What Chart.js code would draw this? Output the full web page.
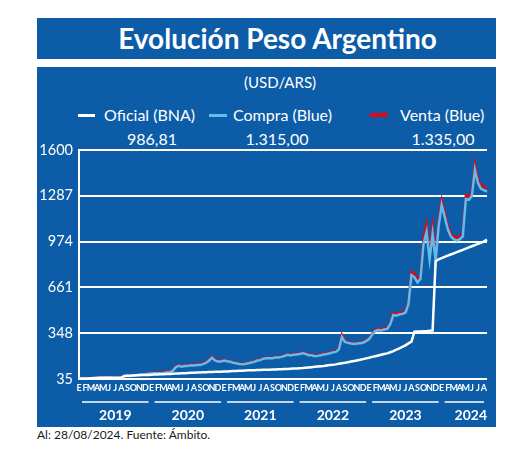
<!DOCTYPE html>
<html>
<head>
<meta charset="UTF-8">
<title>Evolución Peso Argentino</title>
<script src="https://cdn.jsdelivr.net/npm/chart.js"></script>
<style>
  body { margin: 0; width: 520px; height: 470px; background: #fff; font-family: Lato, sans-serif; position: relative; overflow: hidden; }
  .box { position: absolute; left: 37px; width: 459px; background: #0c5ca7; }
  #titulo { top: 18px; height: 41px; color: #fff; font-weight: 700; font-size: 28px; line-height: 41px; text-align: center; padding-left: 22px; box-sizing: border-box; }
  #panel { top: 67px; height: 360px; }
  .txt { position: absolute; color: #fff; font-size: 16px; white-space: nowrap; }
  .bar { position: absolute; height: 3px; }
  .val { position: absolute; color: #fff; font-size: 16px; transform: translateX(-50%); white-space: nowrap; }
  #fuente { position: absolute; left: 37px; top: 427px; font-size: 12px; color: #1a1a1a; }
  canvas { position: absolute; left: 0; top: 0; }
</style>
</head>
<body>
<div class="box" id="titulo">Evolución Peso Argentino</div>
<div class="box" id="panel"></div>
<div class="txt" style="left:244px; top:73px; font-size:15px;">(USD/ARS)</div>

<div class="bar" style="left:78px; top:114px; width:17px; background:#fff;"></div>
<div class="txt" style="left:104px; top:105px;">Oficial (BNA)</div>
<div class="bar" style="left:209px; top:114px; width:18px; background:#5fbdec;"></div>
<div class="txt" style="left:233px; top:105px;">Compra (Blue)</div>
<div class="bar" style="left:370px; top:113px; width:18px; height:4px; background:#e30613;"></div>
<div class="txt" style="left:400px; top:105px;">Venta (Blue)</div>

<div class="val" style="left:152px; top:129px;">986,81</div>
<div class="val" style="left:277px; top:129px;">1.315,00</div>
<div class="val" style="left:443px; top:129px;">1.335,00</div>

<div id="fuente">Al: 28/08/2024. Fuente: Ámbito.</div>

<canvas id="grafico" width="520" height="470"></canvas>

<script>
// meses (una etiqueta por mes, dos puntos por mes: día 1 y día 15)
const mesesAnio = ['E', 'F', 'M', 'A', 'M', 'J', 'J', 'A', 'S', 'O', 'N', 'D'];
const anios = ['2019', '2020', '2021', '2022', '2023', '2024'];
const mesesPorAnio = [12, 12, 12, 12, 12, 8];
const yTicks = [35, 348, 661, 974, 1287, 1600];

const oficial = [
  38, 38, 38, 39, 40, 41, 42, 43, 43, 44, 44, 44, 43, 43, 44, 56, 57, 58, 59, 60, 61, 62, 62, 63,
  64, 65, 66, 67, 68, 69, 70, 71, 72, 73, 74, 75, 76, 77, 78, 79, 80, 81, 81, 82, 83, 84, 85, 85,
  86, 87, 88, 89, 90, 91, 92, 93, 94, 95, 95, 96, 97, 98, 98, 99, 100, 100, 101, 102, 103, 104, 105, 106,
  107, 109, 110, 112, 114, 116, 118, 120, 122, 124, 127, 130, 132, 135, 139, 143, 146, 150, 154, 158, 162, 166, 171, 176,
  180, 186, 191, 196, 201, 206, 210, 218, 226, 235, 245, 254, 265, 278, 290, 358, 359, 360, 361, 362, 364, 366, 840, 852,
  861, 870, 878, 886, 894, 902, 910, 918, 926, 934, 942, 950, 958, 966, 976, 987
];

const compra = [
  37, 37, 37, 38, 39, 41, 43, 43, 44, 45, 44, 43, 42, 42, 44, 56, 57, 56, 59, 61, 65, 66, 68, 71,
  73, 74, 74, 75, 76, 80, 82, 90, 115, 125, 119, 123, 123, 129, 128, 130, 130, 137, 145, 160, 180, 162, 154, 154,
  161, 156, 153, 146, 142, 138, 136, 138, 142, 148, 152, 161, 164, 174, 176, 176, 177, 182, 182, 186, 192, 200, 196, 200,
  203, 206, 210, 206, 198, 197, 191, 193, 197, 202, 206, 211, 217, 220, 238, 322, 288, 282, 277, 275, 277, 280, 283, 294,
  308, 338, 362, 370, 367, 374, 377, 410, 472, 468, 476, 480, 488, 545, 745, 730, 695, 720, 960, 1040, 850, 1025, 845, 1080,
  1225, 1145, 1060, 1010, 990, 980, 990, 1010, 1265, 1260, 1285, 1465, 1375, 1335, 1325, 1315
];

const venta = [
  38, 38, 38, 39, 40, 42, 44, 44, 45, 46, 45, 44, 43, 43, 45, 58, 59, 58, 61, 63, 67, 68, 70, 73,
  77, 78, 78, 79, 80, 84, 86, 95, 120, 130, 124, 128, 128, 134, 133, 135, 135, 142, 150, 165, 188, 168, 160, 160,
  165, 160, 157, 150, 146, 142, 140, 142, 146, 152, 156, 165, 168, 178, 180, 180, 181, 186, 186, 190, 196, 204, 200, 204,
  208, 211, 215, 211, 203, 202, 196, 198, 202, 207, 211, 216, 222, 225, 245, 336, 295, 288, 282, 280, 282, 285, 288, 300,
  315, 345, 370, 378, 375, 382, 385, 420, 485, 480, 488, 492, 500, 560, 768, 750, 715, 740, 1000, 1090, 870, 1070, 860, 1110,
  1255, 1170, 1080, 1030, 1010, 1000, 1010, 1030, 1290, 1285, 1310, 1500, 1400, 1360, 1345, 1335
];

// etiquetas: mes en el día 1, vacío en el día 15
const etiquetas = [];
mesesPorAnio.forEach(n => {
  mesesAnio.slice(0, n).forEach(m => etiquetas.push(m, ''));
});

const blanco = '#ffffff';

// líneas y años debajo de los meses
const aniosPlugin = {
  id: 'anios',
  afterDraw(chart) {
    const ctx = chart.ctx;
    const x = chart.scales.x;
    const area = chart.chartArea;
    const anchoMes = x.getPixelForValue(2) - x.getPixelForValue(0);
    let mes = 0;
    ctx.save();
    ctx.font = 'bold 14px Lato, sans-serif';
    ctx.fillStyle = blanco;
    ctx.strokeStyle = blanco;
    ctx.lineWidth = 1.5;
    ctx.textAlign = 'center';
    ctx.textBaseline = 'middle';
    anios.forEach((a, k) => {
      const x0 = x.getPixelForValue(mes * 2);
      const fin = mes + mesesPorAnio[k];
      const x1 = fin * 2 < etiquetas.length ? x.getPixelForValue(fin * 2) : area.right;
      ctx.beginPath();
      ctx.moveTo(x0 + 3, area.bottom + 23);
      ctx.lineTo(x1 - 3, area.bottom + 23);
      ctx.stroke();
      const w = ctx.measureText(a).width;
      const cx = Math.min(x0 + anchoMes * 6, area.right - w / 2);
      ctx.fillText(a, cx, area.bottom + 36);
      mes = fin;
    });
    ctx.restore();
  }
};

new Chart(document.getElementById('grafico'), {
  type: 'line',
  data: {
    labels: etiquetas,
    datasets: [
      { label: 'Oficial (BNA)', data: oficial, borderColor: blanco, borderWidth: 2.5 },
      { label: 'Compra (Blue)', data: compra, borderColor: '#5fbdec', borderWidth: 2.5 },
      { label: 'Venta (Blue)', data: venta, borderColor: '#e30613', borderWidth: 2.5 }
    ]
  },
  options: {
    responsive: false,
    animation: false,
    devicePixelRatio: 1,
    elements: { point: { radius: 0 }, line: { tension: 0 } },
    layout: { padding: { left: 37, right: 33, top: 150, bottom: 45 } },
    plugins: { legend: { display: false }, tooltip: { enabled: false } },
    scales: {
      x: {
        afterFit: s => { s.height = 46; },
        grid: { display: false, drawTicks: false },
        border: { display: false },
        ticks: {
          autoSkip: false, maxRotation: 0, minRotation: 0, padding: 4,
          color: blanco, font: { family: '"Liberation Sans Narrow", Lato, sans-serif', size: 9, weight: 'bold' },
          callback: (v, i) => etiquetas[i]
        }
      },
      y: {
        min: 35,
        max: 1600,
        afterFit: s => { s.width = 42; },
        afterBuildTicks: s => { s.ticks = yTicks.map(v => ({ value: v })); },
        grid: { color: blanco, lineWidth: 2, drawTicks: false },
        border: { color: blanco, width: 2 },
        ticks: { color: blanco, padding: 6, font: { family: 'Lato, sans-serif', size: 14.5 }, callback: v => String(v) }
      }
    }
  },
  plugins: [aniosPlugin]
});
</script>
</body>
</html>
